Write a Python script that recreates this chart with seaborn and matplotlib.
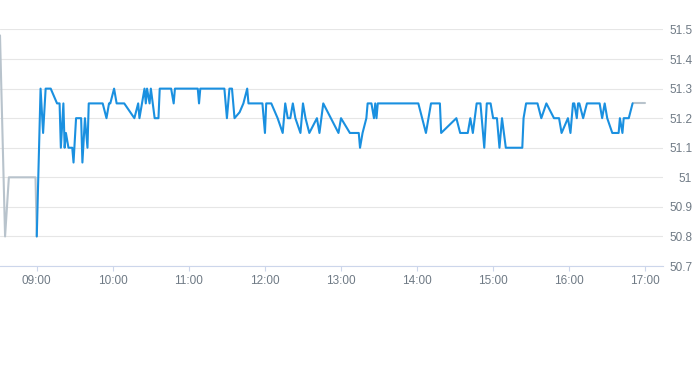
import pandas as pd
import seaborn as sns
import matplotlib.pyplot as plt
import matplotlib.dates as mdates

# Pre-market (grey) prices
pre_times = ["08:31", "08:35", "08:38", "08:59", "09:00"]
pre_prices = [51.48, 50.8, 51.0, 51.0, 50.8]

# Regular session (blue) prices
reg_times = [
    "09:00", "09:03", "09:05", "09:07", "09:11", "09:16", "09:18", "09:19", "09:21", "09:22",
    "09:23", "09:25", "09:28", "09:29", "09:31", "09:35", "09:36", "09:38", "09:40", "09:41",
    "09:52", "09:55", "09:57", "09:58", "10:01", "10:03", "10:09", "10:17", "10:20", "10:21",
    "10:25", "10:26", "10:27", "10:29", "10:30", "10:33", "10:36", "10:37", "10:46", "10:48",
    "10:49", "11:07", "11:08", "11:09", "11:28", "11:30", "11:32", "11:34", "11:36", "11:40",
    "11:43", "11:46", "11:47", "11:58", "12:00", "12:01", "12:05", "12:10", "12:14", "12:16",
    "12:18", "12:20", "12:22", "12:24", "12:28", "12:30", "12:32", "12:35", "12:41", "12:43",
    "12:46", "12:52", "12:58", "13:00", "13:07", "13:14", "13:15", "13:17", "13:20", "13:21",
    "13:24", "13:26", "13:27", "13:28", "13:29", "14:01", "14:07", "14:09", "14:11", "14:18",
    "14:19", "14:31", "14:34", "14:40", "14:42", "14:44", "14:47", "14:50", "14:53", "14:55",
    "14:58", "15:00", "15:03", "15:05", "15:07", "15:10", "15:23", "15:24", "15:26", "15:35",
    "15:38", "15:42", "15:48", "15:52", "15:54", "15:59", "16:01", "16:03", "16:04", "16:06",
    "16:07", "16:08", "16:11", "16:14", "16:24", "16:26", "16:28", "16:30", "16:34", "16:39",
    "16:40", "16:42", "16:43", "16:47", "16:50",
]
reg_prices = [
    50.8, 51.3, 51.15, 51.3, 51.3, 51.25, 51.25, 51.1, 51.25, 51.1,
    51.15, 51.1, 51.1, 51.05, 51.2, 51.2, 51.05, 51.2, 51.1, 51.25,
    51.25, 51.2, 51.25, 51.25, 51.3, 51.25, 51.25, 51.2, 51.25, 51.2,
    51.3, 51.25, 51.3, 51.25, 51.3, 51.2, 51.2, 51.3, 51.3, 51.25,
    51.3, 51.3, 51.25, 51.3, 51.3, 51.2, 51.3, 51.3, 51.2, 51.22,
    51.25, 51.3, 51.25, 51.25, 51.15, 51.25, 51.25, 51.2, 51.15, 51.25,
    51.2, 51.2, 51.25, 51.2, 51.15, 51.25, 51.2, 51.15, 51.2, 51.15,
    51.25, 51.2, 51.15, 51.2, 51.15, 51.15, 51.1, 51.15, 51.2, 51.25,
    51.25, 51.2, 51.25, 51.2, 51.25, 51.25, 51.15, 51.2, 51.25, 51.25,
    51.15, 51.2, 51.15, 51.15, 51.2, 51.15, 51.25, 51.25, 51.1, 51.25,
    51.25, 51.2, 51.2, 51.1, 51.2, 51.1, 51.1, 51.2, 51.25, 51.25,
    51.2, 51.25, 51.2, 51.2, 51.15, 51.2, 51.15, 51.25, 51.25, 51.2,
    51.25, 51.25, 51.2, 51.25, 51.25, 51.2, 51.25, 51.2, 51.15, 51.15,
    51.2, 51.15, 51.2, 51.2, 51.25,
]

# After-hours (grey) prices
post_times = ["16:50", "17:00"]
post_prices = [51.25, 51.25]

y_ticks = [50.7, 50.8, 50.9, 51.0, 51.1, 51.2, 51.3, 51.4, 51.5]


def build_frame():
    parts = []
    for name, times, prices in [("pre", pre_times, pre_prices),
                                ("post", post_times, post_prices),
                                ("regular", reg_times, reg_prices)]:
        parts.append(pd.DataFrame({
            "time": pd.to_datetime(["2024-01-02 " + t for t in times]),
            "price": prices,
            "session": name,
        }))
    return pd.concat(parts, ignore_index=True)


def main():
    df = build_frame()

    sns.set_style("white")
    plt.rcParams["font.family"] = ["Liberation Sans", "DejaVu Sans"]

    fig = plt.figure(figsize=(6.93, 3.65), dpi=100)
    ax = fig.add_axes([0.0, 0.2712, 663 / 693, 0.648])

    sns.lineplot(data=df, x="time", y="price", hue="session",
                 hue_order=["pre", "post", "regular"],
                 palette={"pre": "#b8c3cc", "post": "#b8c3cc", "regular": "#1a90e0"},
                 estimator=None, sort=False, linewidth=1.5, legend=False, ax=ax)

    ax.set_xlim(pd.Timestamp("2024-01-02 08:31"), pd.Timestamp("2024-01-02 17:14"))
    ax.set_ylim(50.7, 51.5)
    ax.set_xlabel("")
    ax.set_ylabel("")

    ax.xaxis.set_major_locator(mdates.HourLocator(byhour=range(9, 18)))
    ax.xaxis.set_major_formatter(mdates.DateFormatter("%H:%M"))

    ax.yaxis.tick_right()
    ax.set_yticks(y_ticks)
    ax.set_yticklabels([f"{v:g}" for v in y_ticks])
    for lbl in ax.get_yticklabels():
        lbl.set_horizontalalignment("right")

    label_color = "#6f7a85"
    ax.tick_params(axis="y", length=0, pad=21, labelsize=8.5, labelcolor=label_color)
    ax.tick_params(axis="x", length=3.5, width=0.8, color="#ccd6eb", pad=3,
                   labelsize=8.5, labelcolor=label_color, bottom=True)

    ax.grid(axis="y", color="#e6e6e6", linewidth=0.8)
    ax.grid(axis="x", visible=False)
    for side in ["top", "left", "right"]:
        ax.spines[side].set_visible(False)
    ax.spines["bottom"].set_color("#ccd6eb")
    ax.spines["bottom"].set_linewidth(0.8)

    fig.savefig("out.png", dpi=100)


if __name__ == "__main__":
    main()
